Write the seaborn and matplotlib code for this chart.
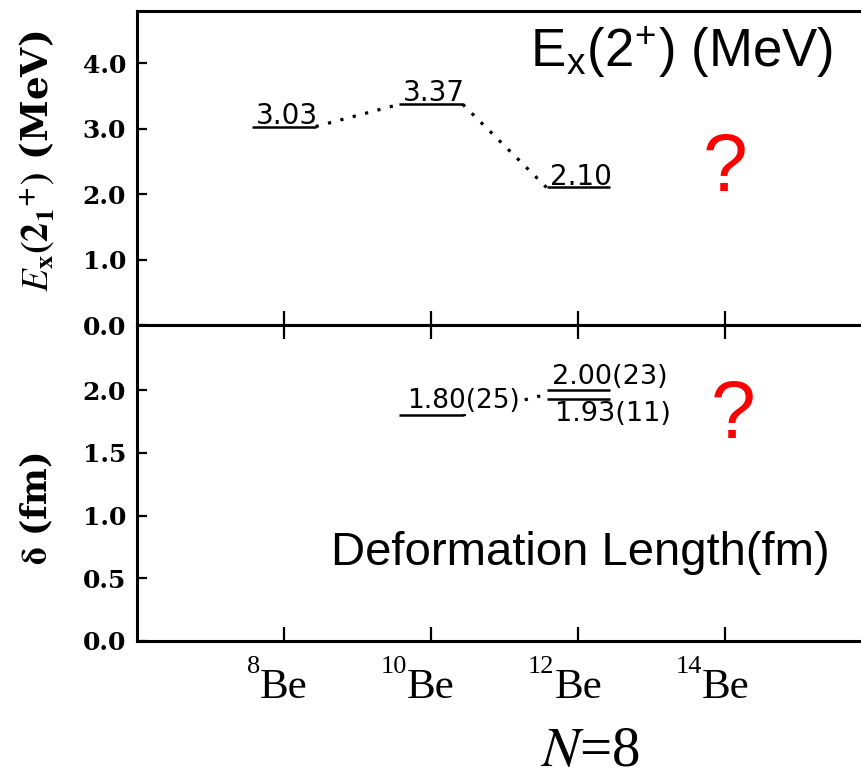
import matplotlib
matplotlib.use("Agg")
import matplotlib.pyplot as plt
import seaborn as sns
import pandas as pd
from matplotlib.transforms import blended_transform_factory

# Beryllium isotopes along the x axis
nuclei_mass = [8, 10, 12, 14]
nuclei_sup = ["8", "10", "12", "14"]

# First 2+ excitation energies (MeV)
ex_mass = [8, 10, 12]
ex_energy = [3.03, 3.37, 2.10]
ex_labels = ["3.03", "3.37", "2.10"]

# Deformation lengths (fm)
delta_mass = [10, 12, 12]
delta_values = [1.80, 2.00, 1.93]
delta_labels = ["1.80(25)", "2.00(23)", "1.93(11)"]

HALF = 0.43  # half width of a level bar in mass-number units

sns.set_theme(style="ticks")
plt.rcParams["font.family"] = ["DejaVu Sans"]
plt.rcParams["mathtext.fontset"] = "stix"
plt.rcParams["text.color"] = "black"
plt.rcParams["axes.labelcolor"] = "black"

W, H = 862, 779
fig = plt.figure(figsize=(W / 100, H / 100), dpi=100)


def px_rect(x0, y0, x1, y1):
    return [x0 / W, 1 - y1 / H, (x1 - x0) / W, (y1 - y0) / H]


ax_top = fig.add_axes(px_rect(137, 11, 909, 325))
ax_bot = fig.add_axes(px_rect(137, 325, 909, 641))

tick_font = dict(family="DejaVu Serif", weight="bold", size=18)

for ax in (ax_top, ax_bot):
    ax.set_xlim(6, 16.5)
    ax.set_xticks(nuclei_mass)
    ax.set_xticklabels([])
    for side in ("left", "top", "bottom"):
        ax.spines[side].set_linewidth(2.2)
        ax.spines[side].set_color("black")
    ax.spines["right"].set_visible(False)
    ax.tick_params(axis="y", direction="in", length=7, width=1.6, pad=8, colors="black")
    ax.tick_params(axis="x", direction="in", length=10, width=1.6, colors="black")
    ax.grid(False)
    ax.set_facecolor("white")

ax_top.set_ylim(0, 4.794)
ax_top.set_yticks([0.0, 1.0, 2.0, 3.0, 4.0])
ax_top.set_yticklabels([f"{v:.1f}" for v in [0.0, 1.0, 2.0, 3.0, 4.0]], fontdict=tick_font)
ax_top.tick_params(axis="x", bottom=True, top=False)

ax_bot.set_ylim(0, 2.518)
ax_bot.set_yticks([0.0, 0.5, 1.0, 1.5, 2.0])
ax_bot.set_yticklabels([f"{v:.1f}" for v in [0.0, 0.5, 1.0, 1.5, 2.0]], fontdict=tick_font)
ax_bot.tick_params(axis="x", bottom=True, top=True)

dotted = (0, (1, 3.0))

# --- excitation energy levels ---
ex_links = pd.DataFrame({
    "x": [ex_mass[0] + HALF, ex_mass[1] - HALF, ex_mass[1] + HALF, ex_mass[2] - HALF],
    "y": [ex_energy[0], ex_energy[1], ex_energy[1], ex_energy[2]],
    "seg": [0, 0, 1, 1],
})
for seg, d in ex_links.groupby("seg"):
    sns.lineplot(data=d, x="x", y="y", ax=ax_top, color="black", lw=2.3,
                 linestyle=dotted, sort=False, legend=False)
ax_top.hlines(ex_energy, [m - HALF for m in ex_mass], [m + HALF for m in ex_mass],
              color="black", lw=1.8, zorder=3)
for m, e, lab in zip(ex_mass, ex_energy, ex_labels):
    ax_top.annotate(lab, xy=(m + 0.04, e), xytext=(0, 2), textcoords="offset points",
                    ha="center", va="baseline", fontsize=20, color="black")

# --- deformation lengths ---
d_links = pd.DataFrame({
    "x": [delta_mass[0] + HALF, delta_mass[1] - HALF],
    "y": [delta_values[0], (delta_values[1] + delta_values[2]) / 2],
})
sns.lineplot(data=d_links, x="x", y="y", ax=ax_bot, color="black", lw=2.3,
             linestyle=dotted, sort=False, legend=False)
ax_bot.hlines(delta_values, [m - HALF for m in delta_mass], [m + HALF for m in delta_mass],
              color="black", lw=1.8, zorder=3)
ax_bot.annotate(delta_labels[0], xy=(delta_mass[0] - 0.33, delta_values[0]), xytext=(0, 5),
                textcoords="offset points", ha="left", va="baseline", fontsize=19,
                bbox=dict(facecolor="white", edgecolor="none", pad=0), zorder=4)
ax_bot.annotate(delta_labels[1], xy=(delta_mass[1] - 0.35, delta_values[1]), xytext=(0, 4),
                textcoords="offset points", ha="left", va="baseline", fontsize=19.5, zorder=4)
ax_bot.annotate(delta_labels[2], xy=(delta_mass[2] - 0.32, delta_values[2]), xytext=(0, -16),
                textcoords="offset points", ha="left", va="baseline", fontsize=19.5, zorder=4)

for ax in (ax_top, ax_bot):
    ax.set_xlabel("")

# unknown values for 14Be
ax_top.text(14.0, 2.05, "?", color="red", fontsize=58, family="Liberation Sans",
            ha="center", va="baseline")
ax_bot.text(14.1, 1.62, "?", color="red", fontsize=58, family="Liberation Sans",
            ha="center", va="baseline")

# axis titles
ax_top.set_ylabel(r"$\mathbf{\mathit{E}}_\mathbf{x}\mathbf{(2_1{}^{+})}$ (MeV)", fontsize=27,
                  family="DejaVu Serif", fontweight="bold")
ax_top.yaxis.set_label_coords(-0.104, 0.52)
ax_bot.set_ylabel(r"$\mathbf{\delta}$ (fm)", fontsize=25, family="DejaVu Serif",
                  fontweight="bold")
ax_bot.yaxis.set_label_coords(-0.106, 0.42)

# nucleus names under the ticks
trans = blended_transform_factory(ax_bot.transData, ax_bot.transAxes)
for m, sup in zip(nuclei_mass, nuclei_sup):
    ax_bot.annotate("Be", xy=(m, 0), xycoords=trans, xytext=(0, -41),
                    textcoords="offset points", ha="center", va="baseline",
                    fontsize=31, family="Liberation Serif", annotation_clip=False)
    ax_bot.annotate(sup, xy=(m, 0), xycoords=trans, xytext=(-17, -23),
                    textcoords="offset points", ha="right", va="baseline",
                    fontsize=19, family="Liberation Serif", annotation_clip=False)

# panel captions
fig.text(833 / W, 1 - 67 / H, r"E$_\mathregular{x}$(2$^\mathregular{+}$) (MeV)",
         fontsize=38, family="Liberation Sans", ha="right", va="baseline")
fig.text(830 / W, 1 - 565 / H, "Deformation Length(fm)",
         fontsize=34, family="Liberation Sans", ha="right", va="baseline")
fig.text(590 / W, 1 - 766 / H, r"$\mathit{N}$=8", fontsize=41, family="Liberation Serif",
         ha="center", va="baseline")

fig.savefig("out.png", dpi=100, facecolor="white")
